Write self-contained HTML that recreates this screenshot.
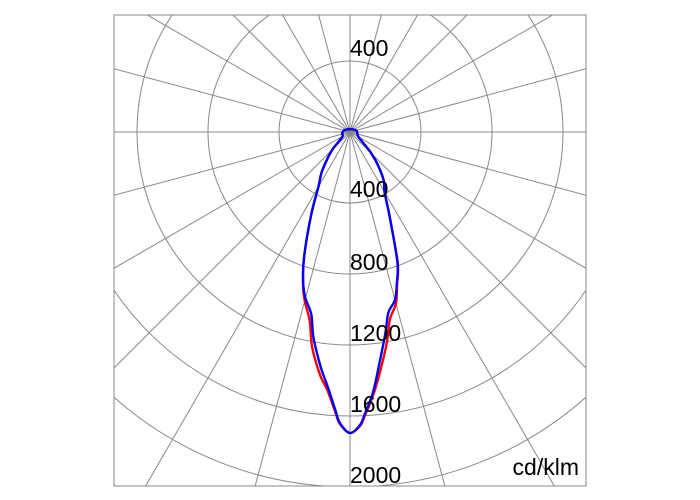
<!DOCTYPE html>
<html><head><meta charset="utf-8"><style>
html,body{margin:0;padding:0;background:#fff;overflow:hidden;width:700px;height:500px;}
svg{display:block;font-family:"Liberation Sans",sans-serif;}
</style></head><body>
<svg id="chart" width="700" height="500">
<defs><clipPath id="clip"><rect x="114" y="15" width="472" height="471"/></clipPath></defs>
<g id="grid" clip-path="url(#clip)"></g>
<rect x="114" y="15" width="472" height="471" fill="none" stroke="#888" stroke-width="1"/>
<g id="series" clip-path="url(#clip)"></g>
<g id="labels"></g>
<text x="579" y="475" font-size="23" text-anchor="end" fill="#000">cd/klm</text>
</svg>
<script>
const ringValues = [400, 800, 1200, 1600, 2000];
const ringLabels = ["800", "1200", "1600", "2000"];
const gammaAngles = [-90,-80,-70,-60,-50,-45,-40,-35,-30,-25,-20,-17,-15,-12,-10,-7,-5,-3,-2,0,2,3,5,7,10,12,15,17,20,25,30,35,40,45,50,60,70,80,90];
const blueValues = [40,45,45,48,80,140,200,280,355,520,760,900,970,1050,1180,1340,1440,1570,1640,1696,1650,1590,1476,1330,1150,1040,980,900,780,530,390,330,245,170,100,55,45,42,40];
const redValues  = [40,45,45,48,80,140,200,280,355,520,760,905,985,1090,1230,1380,1460,1580,1645,1696,1655,1600,1490,1370,1200,1080,1000,905,785,530,390,330,245,170,100,55,45,42,40];

const NS = "http://www.w3.org/2000/svg";
const cx = 350, cy = 132, scale = 71 / 400;
const rScale = v => v * scale;
const px = (g, v) => cx + Math.sin(g * Math.PI / 180) * rScale(v);
const py = (g, v) => cy + Math.cos(g * Math.PI / 180) * rScale(v);

const grid = document.getElementById('grid');
for (let a = 0; a < 360; a += 15) {
  const l = document.createElementNS(NS, 'line');
  
  
  l.setAttribute('x1', cx); l.setAttribute('y1', cy);
  l.setAttribute('x2', cx + Math.sin(a * Math.PI / 180) * 700);
  l.setAttribute('y2', cy + Math.cos(a * Math.PI / 180) * 700);
  l.setAttribute('stroke', '#888'); l.setAttribute('stroke-width', '1');
  grid.appendChild(l);
}
ringValues.forEach(v => {
  const c = document.createElementNS(NS, 'circle');
  
  
  c.setAttribute('cx', cx); c.setAttribute('cy', cy); c.setAttribute('r', rScale(v));
  c.setAttribute('fill', 'none'); c.setAttribute('stroke', '#888'); c.setAttribute('stroke-width', '1');
  grid.appendChild(c);
});

const labels = document.getElementById('labels');
function addLabel(txt, y, name) {
  const t = document.createElementNS(NS, 'text');
  
  
  t.setAttribute('x', cx); t.setAttribute('y', y);
  t.setAttribute('font-size', '23'); t.setAttribute('fill', '#000');
  t.textContent = txt;
  labels.appendChild(t);
}
addLabel("400", cy - rScale(400) - 5, 'ring-label-top-400');
addLabel("400", cy + rScale(400) - 6, 'ring-label-400');
ringLabels.forEach(s => addLabel(s, cy + rScale(+s) - 4, 'ring-label-' + s));

const series = document.getElementById('series');
function drawSeries(vals, color, name) {
  const pts = gammaAngles.map((g, i) => [px(g, vals[i]), py(g, vals[i])]);
  let d = 'M' + pts[0][0].toFixed(1) + ',' + pts[0][1].toFixed(1);
  for (let i = 0; i < pts.length - 1; i++) {
    const p0 = pts[Math.max(0, i - 1)], p1 = pts[i], p2 = pts[i + 1], p3 = pts[Math.min(pts.length - 1, i + 2)];
    const c1x = p1[0] + (p2[0] - p0[0]) / 6, c1y = p1[1] + (p2[1] - p0[1]) / 6;
    const c2x = p2[0] - (p3[0] - p1[0]) / 6, c2y = p2[1] - (p3[1] - p1[1]) / 6;
    d += `C${c1x.toFixed(1)},${c1y.toFixed(1)} ${c2x.toFixed(1)},${c2y.toFixed(1)} ${p2[0].toFixed(1)},${p2[1].toFixed(1)}`;
  }
  const p = document.createElementNS(NS, 'path');
  
  
  p.setAttribute('d', d);
  p.setAttribute('fill', 'none'); p.setAttribute('stroke', color);
  p.setAttribute('stroke-width', '2.4'); p.setAttribute('stroke-linejoin', 'round');
  series.appendChild(p);
  const top = document.createElementNS(NS, 'path');
  
  
  const r0 = rScale(vals[0]);
  top.setAttribute('d', `M${cx - r0},${cy} A${r0},${r0 * 0.4} 0 0 1 ${cx + r0},${cy}`);
  top.setAttribute('fill', 'none'); top.setAttribute('stroke', color); top.setAttribute('stroke-width', '2.4');
  series.appendChild(top);
}
drawSeries(redValues, '#ff0000', 'series-red');
drawSeries(blueValues, '#0000ff', 'series-blue');
</script>
</body></html>
